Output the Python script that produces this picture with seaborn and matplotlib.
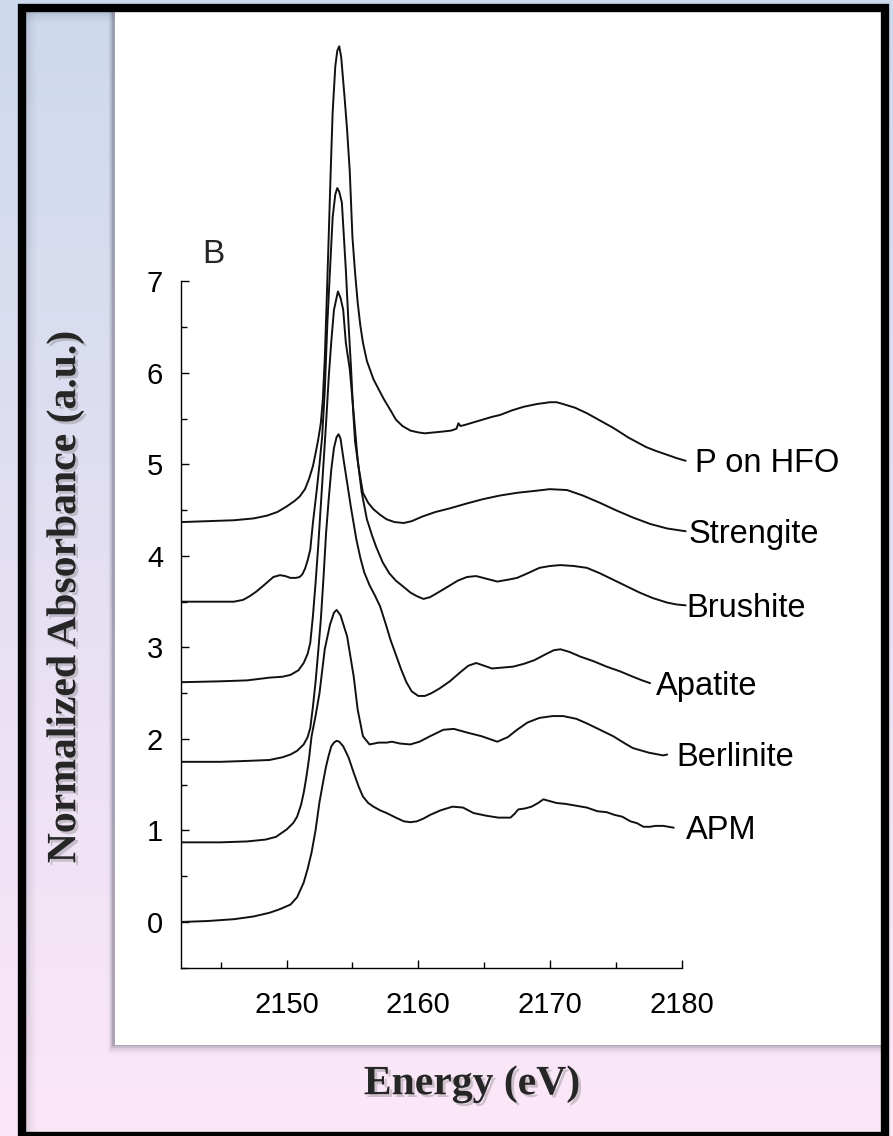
import numpy as np
import pandas as pd
import matplotlib
matplotlib.use("Agg")
import matplotlib.pyplot as plt
import matplotlib.patheffects as pe
from matplotlib.patches import Rectangle
import seaborn as sns

# XANES spectra, (energy eV, normalized absorbance with stacking offset)
apm = [(2142, 0.00), (2144, 0.01), (2146, 0.03), (2147.5, 0.06), (2148.7, 0.10), (2149.5, 0.14),
       (2150.3, 0.19), (2150.8, 0.27), (2151.3, 0.43), (2151.6, 0.58), (2151.9, 0.76), (2152.2, 1.00),
       (2152.5, 1.31), (2152.8, 1.55), (2153.0, 1.70), (2153.2, 1.82), (2153.4, 1.92), (2153.6, 1.96),
       (2153.8, 1.98), (2154.0, 1.97), (2154.3, 1.92), (2154.7, 1.80), (2155.1, 1.63), (2155.5, 1.47),
       (2155.8, 1.37), (2156.2, 1.30), (2156.6, 1.26), (2157.1, 1.22), (2157.6, 1.19), (2158.3, 1.14),
       (2158.9, 1.10), (2159.4, 1.09), (2159.9, 1.10), (2160.4, 1.13), (2160.9, 1.17), (2161.7, 1.22),
       (2162.6, 1.26), (2163.4, 1.25), (2164.2, 1.19), (2165.2, 1.16), (2166.1, 1.14), (2167.0, 1.14),
       (2167.3, 1.18), (2167.6, 1.23), (2168.1, 1.24), (2168.6, 1.26), (2169.1, 1.30), (2169.5, 1.34),
       (2170.0, 1.32), (2170.5, 1.30), (2171.2, 1.29), (2172.0, 1.27), (2172.8, 1.25), (2173.6, 1.21),
       (2174.3, 1.20), (2174.9, 1.17), (2175.5, 1.15), (2176.1, 1.10), (2176.6, 1.08), (2177.1, 1.04),
       (2177.6, 1.04), (2178.0, 1.05), (2178.6, 1.05), (2179.0, 1.04), (2179.4, 1.03)]

berlinite = [(2142, 0.87), (2145, 0.87), (2147, 0.88), (2148.4, 0.90), (2149.2, 0.93), (2150.0, 1.01),
             (2150.5, 1.08), (2150.8, 1.15), (2151.1, 1.28), (2151.3, 1.41), (2151.5, 1.58), (2151.7, 1.78),
             (2151.9, 2.03), (2152.2, 2.25), (2152.5, 2.50), (2152.9, 2.98), (2153.3, 3.25), (2153.6, 3.38),
             (2153.8, 3.41), (2154.1, 3.35), (2154.6, 3.12), (2155.1, 2.68), (2155.4, 2.32), (2155.8, 2.03),
             (2156.3, 1.94), (2157.0, 1.96), (2157.6, 1.96), (2158.0, 1.97), (2158.6, 1.95), (2159.4, 1.94),
             (2160.1, 1.97), (2160.9, 2.03), (2161.9, 2.10), (2162.7, 2.11), (2163.7, 2.07), (2164.8, 2.03),
             (2166.0, 1.97), (2166.8, 2.02), (2167.5, 2.10), (2168.3, 2.18), (2169.2, 2.23), (2170.2, 2.25),
             (2171.0, 2.25), (2172.0, 2.22), (2172.8, 2.17), (2173.8, 2.10), (2174.8, 2.03), (2175.7, 1.95),
             (2176.3, 1.90), (2177.5, 1.85), (2178.6, 1.82), (2178.9, 1.83)]

apatite = [(2142, 1.75), (2145, 1.75), (2147, 1.76), (2148.7, 1.77), (2149.7, 1.80), (2150.3, 1.83),
           (2150.8, 1.87), (2151.3, 1.94), (2151.6, 2.02), (2151.8, 2.12), (2152.0, 2.35), (2152.2, 2.62),
           (2152.4, 2.95), (2152.6, 3.30), (2152.8, 3.75), (2153.0, 4.25), (2153.2, 4.62), (2153.4, 4.95),
           (2153.6, 5.18), (2153.8, 5.30), (2153.95, 5.33), (2154.1, 5.28), (2154.3, 5.08), (2154.6, 4.80),
           (2154.9, 4.52), (2155.3, 4.18), (2155.6, 3.98), (2155.9, 3.82), (2156.3, 3.68), (2156.7, 3.57),
           (2157.1, 3.45), (2157.5, 3.27), (2157.9, 3.08), (2158.3, 2.92), (2158.7, 2.76), (2159.1, 2.62),
           (2159.5, 2.52), (2160.0, 2.47), (2160.5, 2.47), (2161.0, 2.50), (2161.6, 2.55), (2162.4, 2.63),
           (2163.2, 2.73), (2163.8, 2.80), (2164.4, 2.83), (2165.0, 2.80), (2165.6, 2.77), (2166.4, 2.78),
           (2167.2, 2.79), (2168.0, 2.82), (2168.8, 2.86), (2169.6, 2.92), (2170.3, 2.97), (2170.8, 2.98),
           (2171.5, 2.95), (2172.3, 2.90), (2173.3, 2.85), (2174.3, 2.79), (2175.3, 2.74), (2176.3, 2.68),
           (2177.0, 2.64), (2177.6, 2.61)]

brushite = [(2142, 2.62), (2145, 2.63), (2147, 2.64), (2148.7, 2.67), (2149.7, 2.68), (2150.3, 2.70),
            (2150.9, 2.75), (2151.3, 2.83), (2151.6, 2.93), (2151.8, 3.05), (2152.0, 3.34), (2152.2, 3.70),
            (2152.4, 4.10), (2152.6, 4.55), (2152.8, 5.00), (2153.0, 5.45), (2153.2, 5.95), (2153.4, 6.35),
            (2153.6, 6.69), (2153.9, 6.89), (2154.1, 6.82), (2154.3, 6.69), (2154.5, 6.33), (2154.8, 6.04),
            (2155.1, 5.55), (2155.4, 5.05), (2155.7, 4.70), (2156.1, 4.40), (2156.5, 4.22), (2156.8, 4.10),
            (2157.3, 3.93), (2157.8, 3.81), (2158.3, 3.73), (2158.9, 3.66), (2159.4, 3.60), (2159.9, 3.56),
            (2160.4, 3.53), (2160.9, 3.55), (2161.5, 3.60), (2162.2, 3.66), (2163.0, 3.73), (2163.7, 3.77),
            (2164.4, 3.78), (2165.2, 3.75), (2166.0, 3.72), (2166.8, 3.74), (2167.5, 3.76), (2168.3, 3.81),
            (2169.2, 3.87), (2170.0, 3.89), (2170.8, 3.90), (2171.8, 3.89), (2172.8, 3.87), (2173.8, 3.81),
            (2174.8, 3.74), (2175.8, 3.67), (2176.8, 3.60), (2177.8, 3.54), (2178.9, 3.49), (2179.6, 3.47),
            (2180.3, 3.46)]

strengite = [(2142, 3.50), (2144, 3.50), (2146, 3.50), (2146.7, 3.52), (2147.2, 3.56), (2147.7, 3.61),
             (2148.2, 3.67), (2148.6, 3.72), (2149.0, 3.77), (2149.5, 3.79), (2149.9, 3.78), (2150.3, 3.76),
             (2150.7, 3.76), (2151.0, 3.77), (2151.2, 3.80), (2151.4, 3.86), (2151.6, 3.95), (2151.8, 4.07),
             (2152.0, 4.36), (2152.3, 4.73), (2152.5, 5.00), (2152.7, 5.30), (2152.9, 5.80), (2153.1, 6.55),
             (2153.3, 7.13), (2153.5, 7.70), (2153.7, 7.95), (2153.85, 8.02), (2154.0, 7.98), (2154.2, 7.86),
             (2154.5, 7.13), (2154.7, 6.55), (2154.9, 6.04), (2155.05, 5.60), (2155.2, 5.25), (2155.5, 4.94),
             (2155.8, 4.69), (2156.2, 4.58), (2156.6, 4.51), (2157.1, 4.45), (2157.6, 4.40), (2158.2, 4.37),
             (2158.9, 4.36), (2159.5, 4.38), (2160.3, 4.43), (2161.3, 4.48), (2162.4, 4.52), (2163.6, 4.57),
             (2164.9, 4.62), (2166.2, 4.66), (2167.5, 4.69), (2168.8, 4.71), (2170.0, 4.73), (2171.3, 4.72),
             (2172.5, 4.66), (2173.8, 4.58), (2175.0, 4.50), (2176.3, 4.42), (2177.6, 4.35), (2178.9, 4.30),
             (2180.3, 4.27)]

p_on_hfo = [(2142, 4.37), (2144, 4.38), (2146, 4.39), (2147.5, 4.41), (2148.5, 4.44), (2149.3, 4.48),
            (2150.0, 4.54), (2150.6, 4.60), (2151.0, 4.65), (2151.4, 4.73), (2151.7, 4.84), (2152.0, 4.98),
            (2152.2, 5.12), (2152.4, 5.27), (2152.6, 5.45), (2152.75, 5.70), (2152.9, 6.15), (2153.05, 6.80),
            (2153.2, 7.49), (2153.35, 8.20), (2153.5, 8.85), (2153.7, 9.35), (2153.85, 9.52), (2154.0, 9.57),
            (2154.15, 9.45), (2154.4, 9.02), (2154.6, 8.65), (2154.8, 8.20), (2155.0, 7.49), (2155.2, 7.10),
            (2155.4, 6.77), (2155.6, 6.52), (2155.8, 6.33), (2156.1, 6.13), (2156.6, 5.93), (2157.0, 5.82),
            (2157.4, 5.71), (2157.9, 5.59), (2158.3, 5.49), (2158.8, 5.42), (2159.4, 5.37), (2160.0, 5.35),
            (2160.5, 5.34), (2161.2, 5.35), (2161.9, 5.36), (2162.5, 5.37), (2162.9, 5.39), (2163.05, 5.45),
            (2163.2, 5.42), (2163.5, 5.43), (2164.2, 5.46), (2164.9, 5.49), (2165.6, 5.52), (2166.2, 5.54),
            (2167.1, 5.59), (2168.0, 5.63), (2169.0, 5.66), (2170.0, 5.68), (2170.5, 5.68), (2171.0, 5.66),
            (2171.9, 5.62), (2172.8, 5.56), (2173.8, 5.48), (2174.8, 5.40), (2176.0, 5.29), (2177.3, 5.19),
            (2178.0, 5.15), (2178.8, 5.11), (2179.6, 5.07), (2180.3, 5.04)]

series_names = ["P on HFO", "Strengite", "Brushite", "Apatite", "Berlinite", "APM"]
series_data = [p_on_hfo, strengite, brushite, apatite, berlinite, apm]
label_dx = [9, 3, 1, 6, 9, 12]   # label offset from line end, px
x_ticks = [2150, 2160, 2170, 2180]
y_ticks = [0, 1, 2, 3, 4, 5, 6, 7]

W, H = 893, 1136
sns.set_style("ticks")
plt.rcParams["font.family"] = ["Liberation Sans", "DejaVu Sans"]

fig = plt.figure(figsize=(W / 100, H / 100), dpi=100)

# background: gradient, frame and white panel (pixel coordinates)
bg = fig.add_axes([0, 0, 1, 1])
bg.set_xlim(0, W)
bg.set_ylim(H, 0)
bg.axis("off")
top_c = np.array([205, 217, 237]) / 255
bot_c = np.array([252, 231, 248]) / 255
t = np.linspace(0, 1, 256)[:, None, None]
grad = top_c * (1 - t) + bot_c * t
grad = np.repeat(grad, 4, axis=1)
bg.imshow(grad, extent=(0, W, H, 0), aspect="auto", zorder=0)
# inner shadow along frame
for i, a in enumerate([0.18, 0.12, 0.08, 0.05, 0.03]):
    bg.add_patch(Rectangle((26 + i * 2, 12), 2, 1120, color="#556", alpha=a, lw=0, zorder=1))
    bg.add_patch(Rectangle((26, 12 + i * 2), 860, 2, color="#556", alpha=a, lw=0, zorder=1))
# white panel with drop shadow
for i, a in enumerate([0.25, 0.16, 0.10, 0.06, 0.03]):
    bg.add_patch(Rectangle((112 - i, 12), 775, 1034 + i * 2, color="#667", alpha=a, lw=0, zorder=2))
bg.add_patch(Rectangle((115, 12), 770, 1033, color="white", lw=0, zorder=3))
# black frame
bg.add_patch(Rectangle((22, 8), 863, 1128, fill=False, ec="black", lw=6, zorder=4))

# main axes: x 2142..2182 -> px 181..708, y -0.5..9.75 -> px 968..30
ax = fig.add_axes([181.2 / W, 1 - 967.7 / H, 526.8 / W, 937.9 / H])
ax.patch.set_alpha(0)
for name, pts in zip(series_names, series_data):
    df = pd.DataFrame(pts, columns=["energy", "absorbance"])
    sns.lineplot(data=df, x="energy", y="absorbance", color="#111111", lw=1.4,
                 sort=False, estimator=None, ax=ax)

for name, pts, dx in zip(series_names, series_data, label_dx):
    ex, ey = pts[-1]
    ax.annotate(name, xy=(ex, ey), xytext=(dx * 0.72, -8.4), textcoords="offset points",
                fontsize=23.5, ha="left", va="baseline", color="black")

ax.text(2143.6, 7.2, "B", fontsize=24, ha="left", va="baseline")

ax.set_xlim(2142, 2182)
ax.set_ylim(-0.5, 9.75)
ax.spines["top"].set_visible(False)
ax.spines["right"].set_visible(False)
ax.spines["bottom"].set_bounds(2142, 2180)
ax.spines["left"].set_bounds(-0.5, 7)
for s in ["bottom", "left"]:
    ax.spines[s].set_linewidth(1.0)
    ax.spines[s].set_color("black")
ax.set_xticks(x_ticks)
ax.set_xticks([v + 5 for v in [2140] + x_ticks[:-1]], minor=True)
ax.set_yticks(y_ticks)
ax.set_yticks([v + 0.5 for v in [-1] + y_ticks[:-1]], minor=True)
ax.tick_params(which="both", direction="in", width=1.0, colors="black", labelsize=21,
               bottom=True, left=True, top=False, right=False)
ax.tick_params(which="major", length=6)
ax.tick_params(which="minor", length=4)
ax.tick_params(axis="x", which="major", pad=17)
ax.tick_params(axis="y", which="major", pad=13)
ax.set_xlabel("")
ax.set_ylabel("")

shadow = [pe.SimplePatchShadow(offset=(2, -2), shadow_rgbFace="#777777", alpha=0.35), pe.Normal()]
fig.text(65 / W, 1 - 597 / H, "Normalized Absorbance (a.u.)", rotation=90, ha="center", va="center",
         fontsize=30, fontweight="bold", family=["Liberation Serif", "DejaVu Serif"], path_effects=shadow)
fig.text(472 / W, 1 - 1084 / H, "Energy (eV)", ha="center", va="center",
         fontsize=30, fontweight="bold", family=["Liberation Serif", "DejaVu Serif"], path_effects=shadow)

fig.savefig("out.png", dpi=100)
